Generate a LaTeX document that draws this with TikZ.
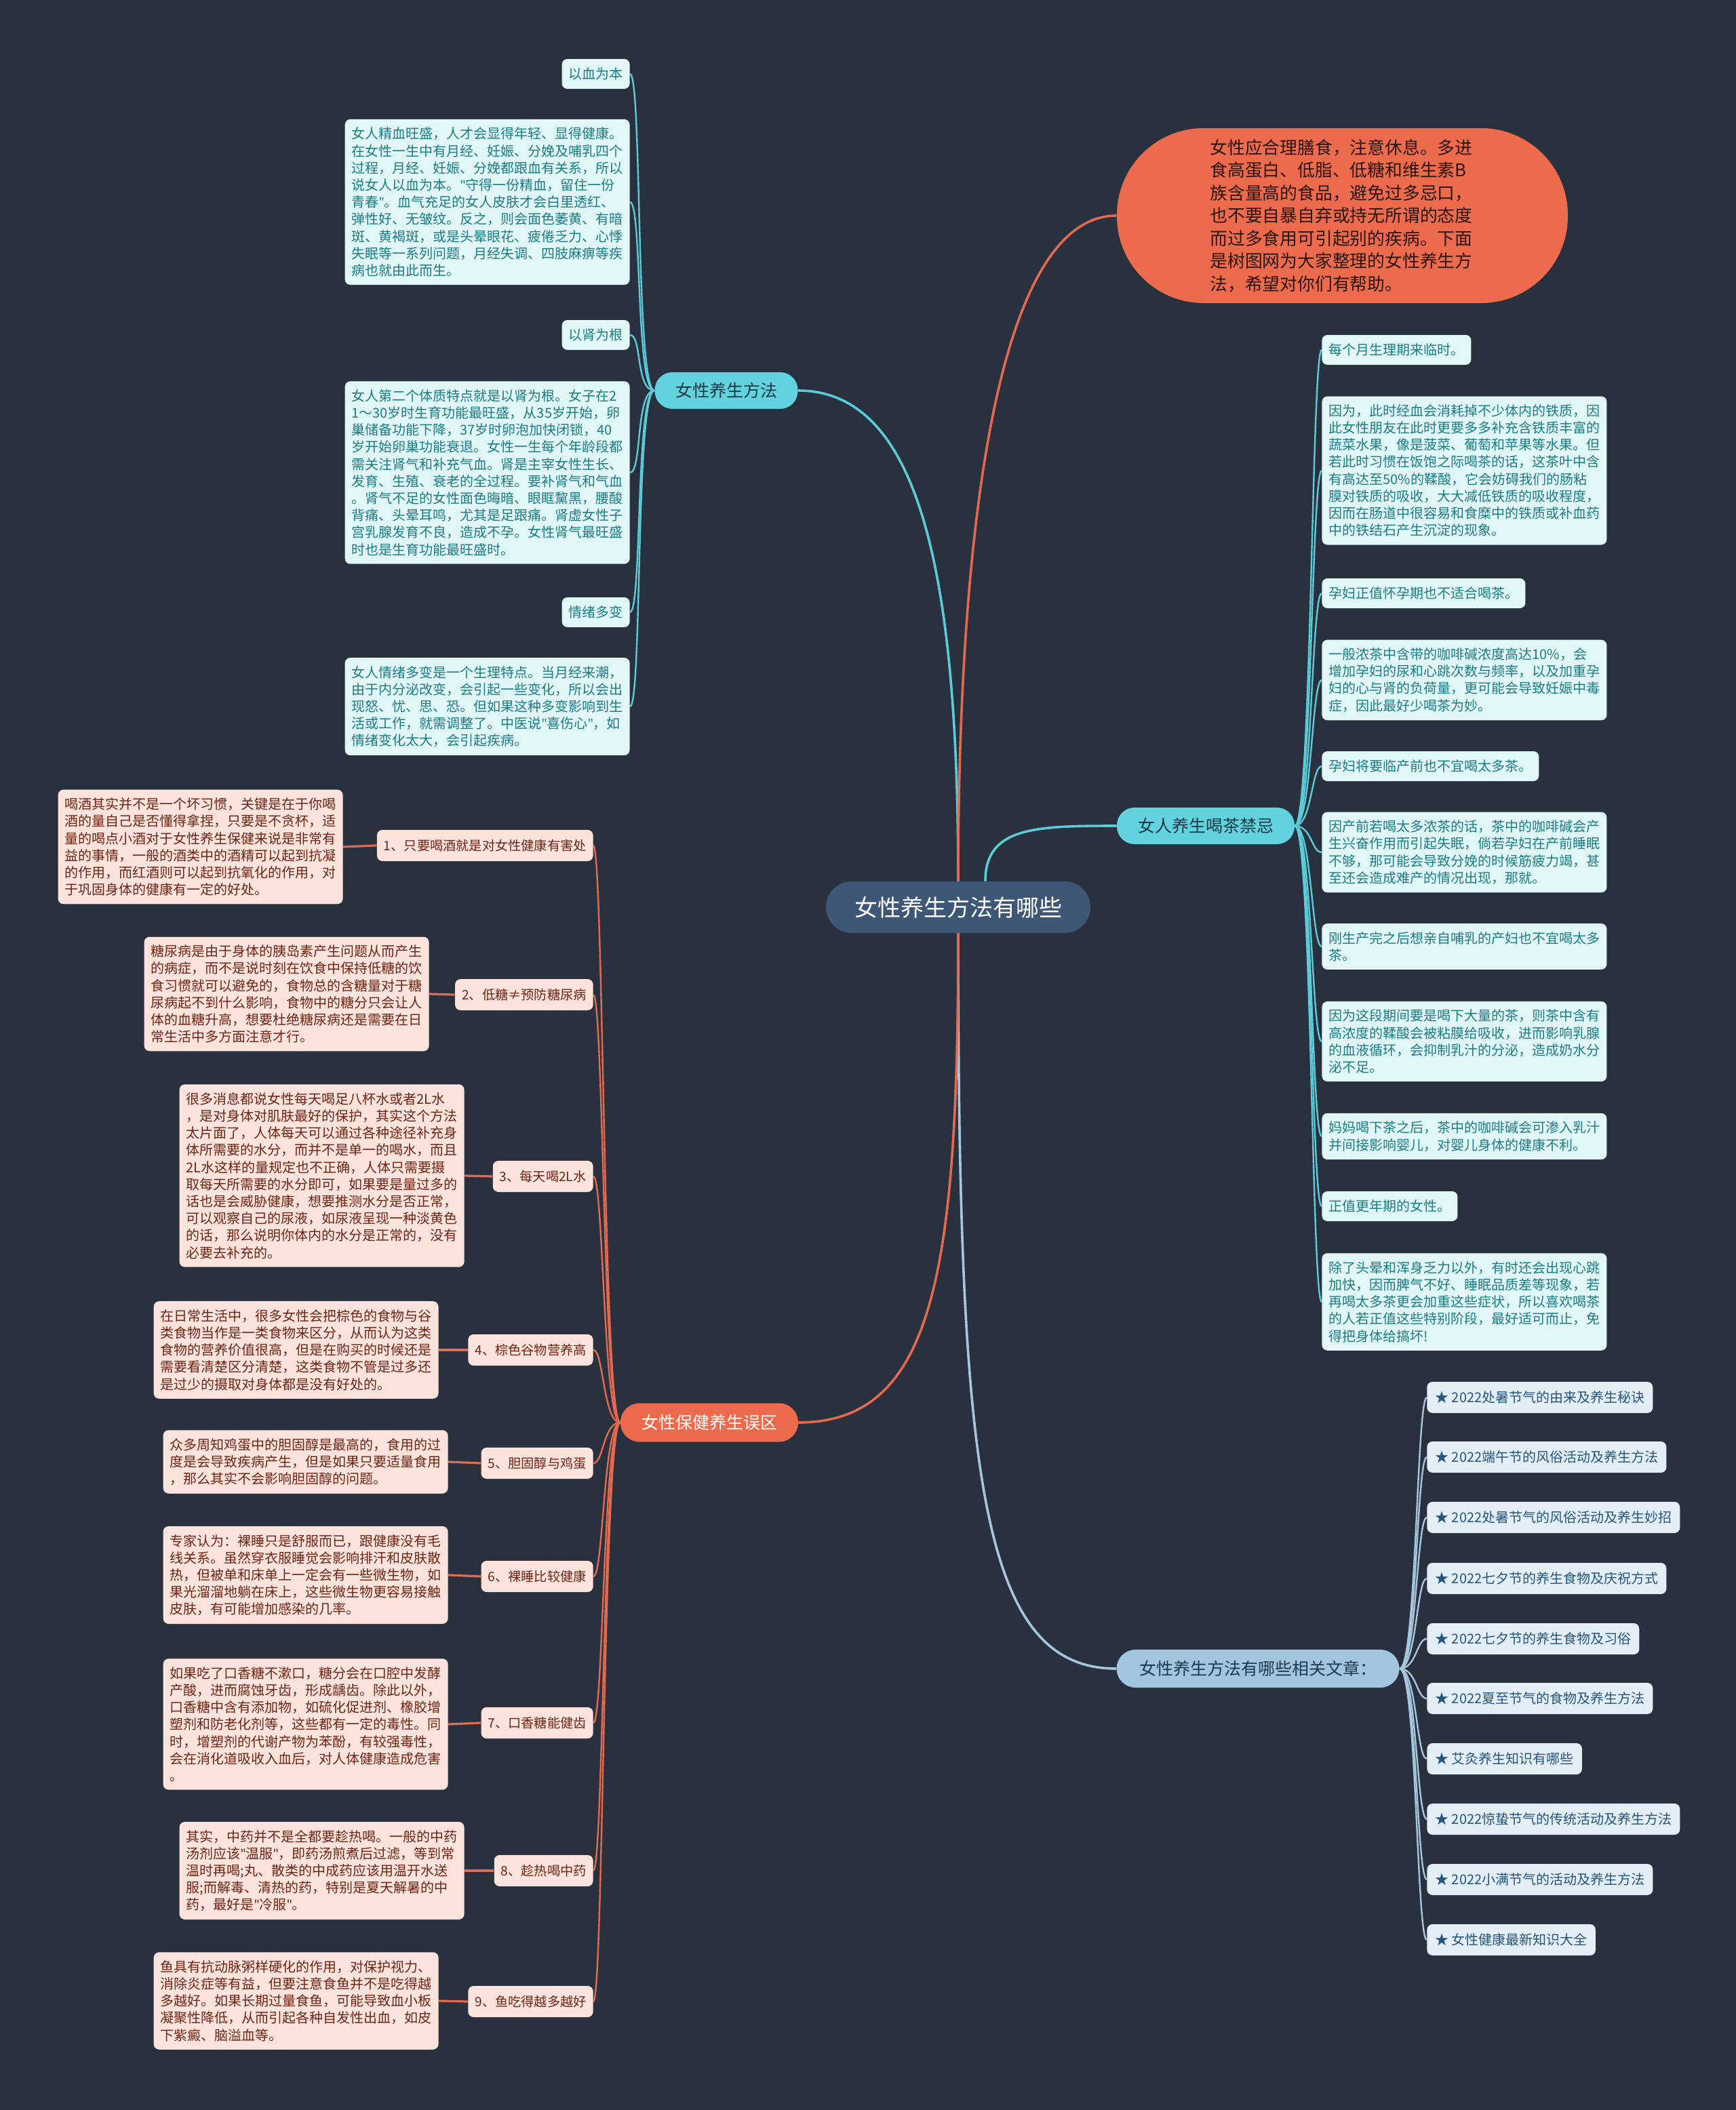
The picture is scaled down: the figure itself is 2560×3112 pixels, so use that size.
\documentclass[tikz,border=0pt]{standalone}
\usepackage{fontspec}
\setmainfont{Noto Sans CJK SC}
\newfontfamily\latinfont{Noto Sans}
\newcommand{\dq}{{\latinfont"}}
\usetikzlibrary{calc}
\definecolor{bgc}{HTML}{29303E}
\definecolor{rootc}{HTML}{3E5776}
\definecolor{cyanc}{HTML}{62D2DE}
\definecolor{clinec}{HTML}{5CCBD8}
\definecolor{cleafc}{HTML}{E0F6F7}
\definecolor{ctextc}{HTML}{1B7C84}
\definecolor{cbrtext}{HTML}{1D3945}
\definecolor{coralc}{HTML}{EC6B4D}
\definecolor{corallinec}{HTML}{E36A4F}
\definecolor{pleafc}{HTML}{FCE3DC}
\definecolor{ptextc}{HTML}{6E2414}
\definecolor{otextc}{HTML}{2A1410}
\definecolor{bbrc}{HTML}{A3C5DF}
\definecolor{blinec}{HTML}{A6C6DE}
\definecolor{bleafc}{HTML}{E4EEF6}
\definecolor{btextc}{HTML}{24557F}
\definecolor{bbrtext}{HTML}{1E3A50}
\pgfdeclarelayer{background}
\pgfsetlayers{background,main}
\tikzset{
  every node/.style={font=\fontsize{10}{12.6}\selectfont},
  rootnode/.style={fill=rootc, text=white, rounded corners=19pt, minimum width=195pt, minimum height=38pt, font=\fontsize{17}{20}\selectfont},
  topnode/.style={fill=coralc, text=otextc, rounded corners=64pt, minimum width=332.5pt, minimum height=129pt, text width=195pt, align=left, font=\fontsize{12.9}{16.75}\selectfont},
  cbr/.style={fill=cyanc, text=cbrtext, rounded corners=13pt, minimum height=27pt, font=\fontsize{12.5}{15}\selectfont},
  rbr/.style={fill=coralc, text=white, rounded corners=14pt, minimum height=28.5pt, minimum width=131pt, font=\fontsize{12.5}{15}\selectfont},
  bbr/.style={fill=bbrc, text=bbrtext, rounded corners=14pt, minimum height=28pt, minimum width=208.5pt, font=\fontsize{12.5}{15}\selectfont},
  cleaf/.style={fill=cleafc, text=ctextc, rounded corners=4pt, inner xsep=5pt, inner ysep=5pt, minimum height=22pt},
  cpara/.style={cleaf, text width=200pt, align=left, inner ysep=6pt},
  pleaf/.style={fill=pleafc, text=ptextc, rounded corners=4pt, inner xsep=5pt, inner ysep=5pt, minimum height=23pt, font=\fontsize{9.6}{12}\selectfont},
  ppara/.style={fill=pleafc, text=ptextc, rounded corners=4pt, inner xsep=5pt, inner ysep=6pt, text width=200pt, align=left},
  bleaf/.style={fill=bleafc, text=btextc, rounded corners=4pt, inner xsep=6pt, inner ysep=5pt, minimum height=23pt},
  cline/.style={draw=clinec, line width=1.2pt},
  rline/.style={draw=corallinec, line width=1.2pt},
  bline/.style={draw=blinec, line width=1.2pt},
  mainline/.style={line width=1.8pt},
}
\begin{document}
\begin{tikzpicture}[x=0.5pt,y=-0.5pt]
\useasboundingbox (0,0) rectangle (2560,3112);
% root and main topics
\node[rootnode] (root) at (1413,1338) {女性养生方法有哪些};
\node[topnode, anchor=center] (o) at (1979.5,318) {女性应合理膳食，注意休息。多进\\食高蛋白、低脂、低糖和维生素B\\族含量高的食品，避免过多忌口，\\也不要自暴自弃或持无所谓的态度\\而过多食用可引起别的疾病。下面\\是树图网为大家整理的女性养生方\\法，希望对你们有帮助。};
\node[cbr, minimum width=105.5pt] (b1) at (1071,576) {女性养生方法};
\node[cbr, minimum width=131pt] (b2) at (1778,1218) {女人养生喝茶禁忌};
\node[bbr] (b3) at (1855,2461) {女性养生方法有哪些相关文章：};
\node[rbr] (b4) at (1046,2098) {女性保健养生误区};
% left cyan branch
\node[cleaf, anchor=east] (l1) at (929,109) {以血为本};
\node[cpara, anchor=east] (p1) at (929,298) {女人精血旺盛，人才会显得年轻、显得健康。\\在女性一生中有月经、妊娠、分娩及哺乳四个\\过程，月经、妊娠、分娩都跟血有关系，所以\\说女人以血为本。\dq 守得一份精血，留住一份\\青春\dq 。血气充足的女人皮肤才会白里透红、\\弹性好、无皱纹。反之，则会面色萎黄、有暗\\斑、黄褐斑，或是头晕眼花、疲倦乏力、心悸\\失眠等一系列问题，月经失调、四肢麻痹等疾\\病也就由此而生。};
\node[cleaf, anchor=east] (l2) at (929,494) {以肾为根};
\node[cpara, anchor=east] (p2) at (929,697) {女人第二个体质特点就是以肾为根。女子在2\\1～30岁时生育功能最旺盛，从35岁开始，卵\\巢储备功能下降，37岁时卵泡加快闭锁，40\\岁开始卵巢功能衰退。女性一生每个年龄段都\\需关注肾气和补充气血。肾是主宰女性生长、\\发育、生殖、衰老的全过程。要补肾气和气血\\。肾气不足的女性面色晦暗、眼眶黧黑，腰酸\\背痛、头晕耳鸣，尤其是足跟痛。肾虚女性子\\宫乳腺发育不良，造成不孕。女性肾气最旺盛\\时也是生育功能最旺盛时。};
\node[cleaf, anchor=east] (l3) at (929,903) {情绪多变};
\node[cpara, anchor=east] (p3) at (929,1042) {女人情绪多变是一个生理特点。当月经来潮，\\由于内分泌改变，会引起一些变化，所以会出\\现怒、忧、思、恐。但如果这种多变影响到生\\活或工作，就需调整了。中医说\dq 喜伤心\dq ，如\\情绪变化太大，会引起疾病。};
% tea branch
\node[cleaf, anchor=west] (t1) at (1949,516) {每个月生理期来临时。};
\node[cpara, anchor=west] (t2) at (1949,694) {因为，此时经血会消耗掉不少体内的铁质，因\\此女性朋友在此时更要多多补充含铁质丰富的\\蔬菜水果，像是菠菜、葡萄和苹果等水果。但\\若此时习惯在饭饱之际喝茶的话，这茶叶中含\\有高达至50\%的鞣酸，它会妨碍我们的肠粘\\膜对铁质的吸收，大大减低铁质的吸收程度，\\因而在肠道中很容易和食糜中的铁质或补血药\\中的铁结石产生沉淀的现象。};
\node[cleaf, anchor=west] (t3) at (1949,875) {孕妇正值怀孕期也不适合喝茶。};
\node[cpara, anchor=west] (t4) at (1949,1003) {一般浓茶中含带的咖啡碱浓度高达10\%，会\\增加孕妇的尿和心跳次数与频率，以及加重孕\\妇的心与肾的负荷量，更可能会导致妊娠中毒\\症，因此最好少喝茶为妙。};
\node[cleaf, anchor=west] (t5) at (1949,1130) {孕妇将要临产前也不宜喝太多茶。};
\node[cpara, anchor=west] (t6) at (1949,1257) {因产前若喝太多浓茶的话，茶中的咖啡碱会产\\生兴奋作用而引起失眠，倘若孕妇在产前睡眠\\不够，那可能会导致分娩的时候筋疲力竭，甚\\至还会造成难产的情况出现，那就。};
\node[cpara, anchor=west] (t7) at (1949,1396) {刚生产完之后想亲自哺乳的产妇也不宜喝太多\\茶。};
\node[cpara, anchor=west] (t8) at (1949,1536) {因为这段期间要是喝下大量的茶，则茶中含有\\高浓度的鞣酸会被粘膜给吸收，进而影响乳腺\\的血液循环，会抑制乳汁的分泌，造成奶水分\\泌不足。};
\node[cpara, anchor=west] (t9) at (1949,1676) {妈妈喝下茶之后，茶中的咖啡碱会可渗入乳汁\\并间接影响婴儿，对婴儿身体的健康不利。};
\node[cleaf, anchor=west] (t10) at (1949,1779) {正值更年期的女性。};
\node[cpara, anchor=west] (t11) at (1949,1920) {除了头晕和浑身乏力以外，有时还会出现心跳\\加快，因而脾气不好、睡眠品质差等现象，若\\再喝太多茶更会加重这些症状，所以喜欢喝茶\\的人若正值这些特别阶段，最好适可而止，免\\得把身体给搞坏!};
% articles
\node[bleaf, anchor=west] (a1) at (2104,2061) {★ 2022处暑节气的由来及养生秘诀};
\node[bleaf, anchor=west] (a2) at (2104,2149) {★ 2022端午节的风俗活动及养生方法};
\node[bleaf, anchor=west] (a3) at (2104,2238) {★ 2022处暑节气的风俗活动及养生妙招};
\node[bleaf, anchor=west] (a4) at (2104,2328) {★ 2022七夕节的养生食物及庆祝方式};
\node[bleaf, anchor=west] (a5) at (2104,2417) {★ 2022七夕节的养生食物及习俗};
\node[bleaf, anchor=west] (a6) at (2104,2505) {★ 2022夏至节气的食物及养生方法};
\node[bleaf, anchor=west] (a7) at (2104,2594) {★ 艾灸养生知识有哪些};
\node[bleaf, anchor=west] (a8) at (2104,2683) {★ 2022惊蛰节气的传统活动及养生方法};
\node[bleaf, anchor=west] (a9) at (2104,2772) {★ 2022小满节气的活动及养生方法};
\node[bleaf, anchor=west] (a10) at (2104,2861) {★ 女性健康最新知识大全};
% red branch
\node[pleaf, anchor=east] (r1) at (875,1247) {1、只要喝酒就是对女性健康有害处};
\node[ppara, anchor=east] (q1) at (506,1249) {喝酒其实并不是一个坏习惯，关键是在于你喝\\酒的量自己是否懂得拿捏，只要是不贪杯，适\\量的喝点小酒对于女性养生保健来说是非常有\\益的事情，一般的酒类中的酒精可以起到抗凝\\的作用，而红酒则可以起到抗氧化的作用，对\\于巩固身体的健康有一定的好处。};
\node[pleaf, anchor=east] (r2) at (875,1467) {2、低糖≠预防糖尿病};
\node[ppara, anchor=east] (q2) at (633,1466) {糖尿病是由于身体的胰岛素产生问题从而产生\\的病症，而不是说时刻在饮食中保持低糖的饮\\食习惯就可以避免的，食物总的含糖量对于糖\\尿病起不到什么影响，食物中的糖分只会让人\\体的血糖升高，想要杜绝糖尿病还是需要在日\\常生活中多方面注意才行。};
\node[pleaf, anchor=east] (r3) at (875,1735) {3、每天喝2L水};
\node[ppara, anchor=east] (q3) at (685,1734) {很多消息都说女性每天喝足八杯水或者2L水\\，是对身体对肌肤最好的保护，其实这个方法\\太片面了，人体每天可以通过各种途径补充身\\体所需要的水分，而并不是单一的喝水，而且\\2L水这样的量规定也不正确，人体只需要摄\\取每天所需要的水分即可，如果要是量过多的\\话也是会威胁健康，想要推测水分是否正常，\\可以观察自己的尿液，如尿液呈现一种淡黄色\\的话，那么说明你体内的水分是正常的，没有\\必要去补充的。};
\node[pleaf, anchor=east] (r4) at (875,1991) {4、棕色谷物营养高};
\node[ppara, anchor=east] (q4) at (647,1991) {在日常生活中，很多女性会把棕色的食物与谷\\类食物当作是一类食物来区分，从而认为这类\\食物的营养价值很高，但是在购买的时候还是\\需要看清楚区分清楚，这类食物不管是过多还\\是过少的摄取对身体都是没有好处的。};
\node[pleaf, anchor=east] (r5) at (875,2158) {5、胆固醇与鸡蛋};
\node[ppara, anchor=east] (q5) at (661,2156) {众多周知鸡蛋中的胆固醇是最高的，食用的过\\度是会导致疾病产生，但是如果只要适量食用\\，那么其实不会影响胆固醇的问题。};
\node[pleaf, anchor=east] (r6) at (875,2325) {6、裸睡比较健康};
\node[ppara, anchor=east] (q6) at (661,2323) {专家认为：裸睡只是舒服而已，跟健康没有毛\\线关系。虽然穿衣服睡觉会影响排汗和皮肤散\\热，但被单和床单上一定会有一些微生物，如\\果光溜溜地躺在床上，这些微生物更容易接触\\皮肤，有可能增加感染的几率。};
\node[pleaf, anchor=east] (r7) at (875,2541) {7、口香糖能健齿};
\node[ppara, anchor=east] (q7) at (661,2543) {如果吃了口香糖不漱口，糖分会在口腔中发酵\\产酸，进而腐蚀牙齿，形成龋齿。除此以外，\\口香糖中含有添加物，如硫化促进剂、橡胶增\\塑剂和防老化剂等，这些都有一定的毒性。同\\时，增塑剂的代谢产物为苯酚，有较强毒性，\\会在消化道吸收入血后，对人体健康造成危害\\。};
\node[pleaf, anchor=east] (r8) at (875,2759) {8、趁热喝中药};
\node[ppara, anchor=east] (q8) at (685,2759) {其实，中药并不是全都要趁热喝。一般的中药\\汤剂应该\dq 温服\dq ，即药汤煎煮后过滤，等到常\\温时再喝;丸、散类的中成药应该用温开水送\\服;而解毒、清热的药，特别是夏天解暑的中\\药，最好是\dq 冷服\dq 。};
\node[pleaf, anchor=east] (r9) at (875,2952) {9、鱼吃得越多越好};
\node[ppara, anchor=east] (q9) at (647,2951) {鱼具有抗动脉粥样硬化的作用，对保护视力、\\消除炎症等有益，但要注意食鱼并不是吃得越\\多越好。如果长期过量食鱼，可能导致血小板\\凝聚性降低，从而引起各种自发性出血，如皮\\下紫癜、脑溢血等。};

\begin{pgfonlayer}{background}
\fill[bgc] (0,0) rectangle (2560,3112);
% root connectors
\draw[cline, mainline] (root.north) .. controls +(0,-450) and +(180,0) .. (b1.east);
\draw[rline, mainline] (root.north) .. controls +(0,-500) and +(-180,0) .. (o.west);
\draw[cline, mainline] ($(root.north)+(40,0)$) .. controls +(0,-80) and +(-120,0) .. (b2.west);
\draw[bline, mainline] (root.south) .. controls +(0,800) and +(-200,0) .. (b3.west);
\draw[rline, mainline] (root.south) .. controls +(0,500) and +(200,0) .. (b4.east);
% branch connectors
\foreach \n in {l1,p1,l2,p2,l3,p3}
  \draw[cline] (b1.west) .. controls +(-28,0) and +(18,0) .. (\n.east);
\foreach \n in {t1,t2,t3,t4,t5,t6,t7,t8,t9,t10,t11}
  \draw[cline] (b2.east) .. controls +(25,0) and +(-15,0) .. (\n.west);
\foreach \n in {a1,a2,a3,a4,a5,a6,a7,a8,a9,a10}
  \draw[bline] (b3.east) .. controls +(25,0) and +(-15,0) .. (\n.west);
\foreach \n in {r1,r2,r3,r4,r5,r6,r7,r8,r9}
  \draw[rline] (b4.west) .. controls +(-25,0) and +(15,0) .. (\n.east);
\foreach \n in {1,...,9}
  \draw[rline, line width=1.6pt] (q\n.east) -- (r\n.west);
\end{pgfonlayer}
\end{tikzpicture}
\end{document}
